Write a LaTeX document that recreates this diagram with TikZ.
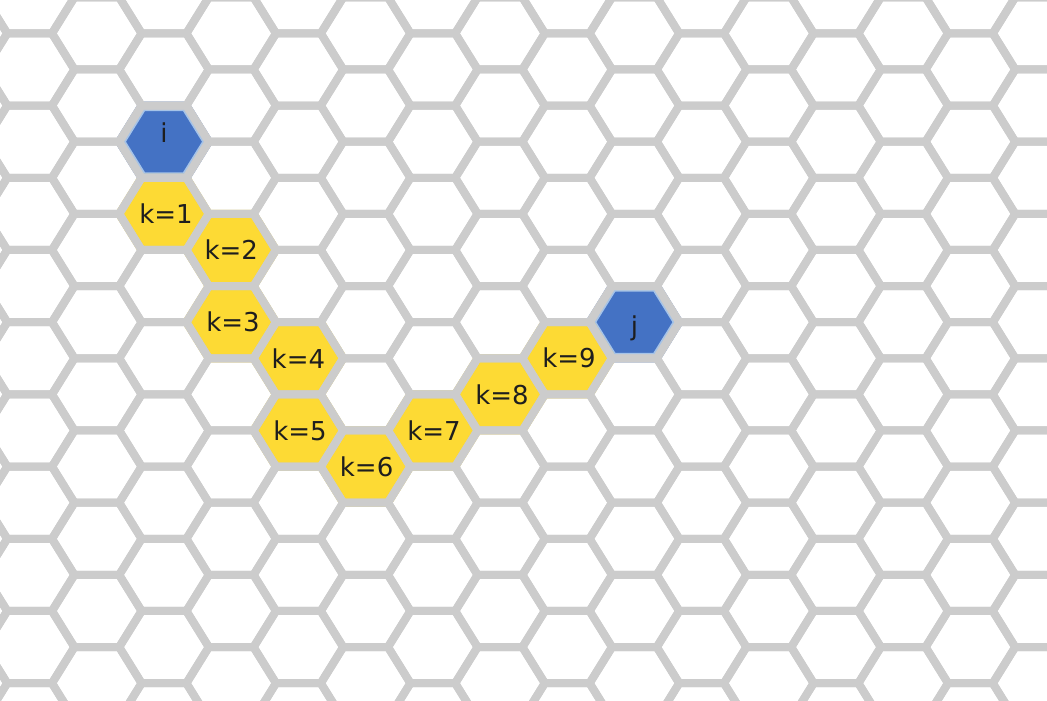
\documentclass[tikz,border=0pt]{standalone}
\usepackage{fontspec}
\setmainfont{DejaVu Sans}
\definecolor{gridgray}{RGB}{204,204,204}
\definecolor{hexblue}{RGB}{68,114,196}
\definecolor{rimblue}{RGB}{165,195,232}
\definecolor{hexyellow}{RGB}{253,218,52}
\definecolor{labeltext}{RGB}{30,30,30}
\tikzset{
  hexcell/.pic={\path[pic actions] (44.8,0) -- (22.4,36.1) -- (-22.4,36.1) -- (-44.8,0) -- (-22.4,-36.1) -- (22.4,-36.1) -- cycle;},
  gridline/.style={draw=gridgray, line width=8pt, line join=round},
  bluecell/.style={fill=hexblue, draw=hexblue, line width=8pt},
  bluerim/.style={draw=rimblue, line width=2pt, scale=0.875},
  yellowcell/.style={fill=hexyellow, draw=hexyellow, line width=8pt},
  lbl/.style={text=labeltext, font=\fontsize{26}{30}\selectfont, inner sep=0pt}
}
\begin{document}
\begin{tikzpicture}[x=1pt,y=1pt]
\fill[white] (0,0) rectangle (1047,701);
\useasboundingbox (0,0) rectangle (1047,701);
\begin{scope}
\clip (0,0) rectangle (1047,701);
% coloured cells
\pic[bluecell] at (164,559.3) {hexcell};
\pic[bluecell] at (634.4,378.8) {hexcell};
\pic[bluerim] at (164,559.3) {hexcell};
\pic[bluerim] at (634.4,378.8) {hexcell};
\pic[yellowcell] at (164,487.1) {hexcell};
\pic[yellowcell] at (231.2,451.0) {hexcell};
\pic[yellowcell] at (231.2,378.8) {hexcell};
\pic[yellowcell] at (298.4,342.7) {hexcell};
\pic[yellowcell] at (298.4,270.5) {hexcell};
\pic[yellowcell] at (365.6,234.4) {hexcell};
\pic[yellowcell] at (432.8,270.5) {hexcell};
\pic[yellowcell] at (500,306.6) {hexcell};
\pic[yellowcell] at (567.2,342.7) {hexcell};
% grid
\foreach \n in {-3,...,14}{
  \foreach \m in {-11,...,11}{
    \pgfmathsetmacro\X{164+67.2*\n}
    \pgfmathsetmacro\Y{701-(141.7+36.1*\n+72.2*\m)}
    \ifdim\Y pt>-80pt \ifdim\Y pt<780pt
      \pic[gridline] at (\X,\Y) {hexcell};
    \fi\fi
  }
}
\end{scope}
% labels
\node[lbl, yshift=9pt] (ni) at (164,559.3) {i};
\node[lbl, yshift=-6pt] (nj) at (634.4,378.8) {j};
\node[lbl] (k1) at (166,487.1) {k=1};
\node[lbl] (k2) at (231.2,451.0) {k=2};
\node[lbl] (k3) at (233,378.8) {k=3};
\node[lbl] (k4) at (298.4,342.7) {k=4};
\node[lbl] (k5) at (300,270.5) {k=5};
\node[lbl] (k6) at (366.6,234.4) {k=6};
\node[lbl] (k7) at (434,270.5) {k=7};
\node[lbl] (k8) at (502,306.6) {k=8};
\node[lbl] (k9) at (569,342.7) {k=9};
\end{tikzpicture}
\end{document}
